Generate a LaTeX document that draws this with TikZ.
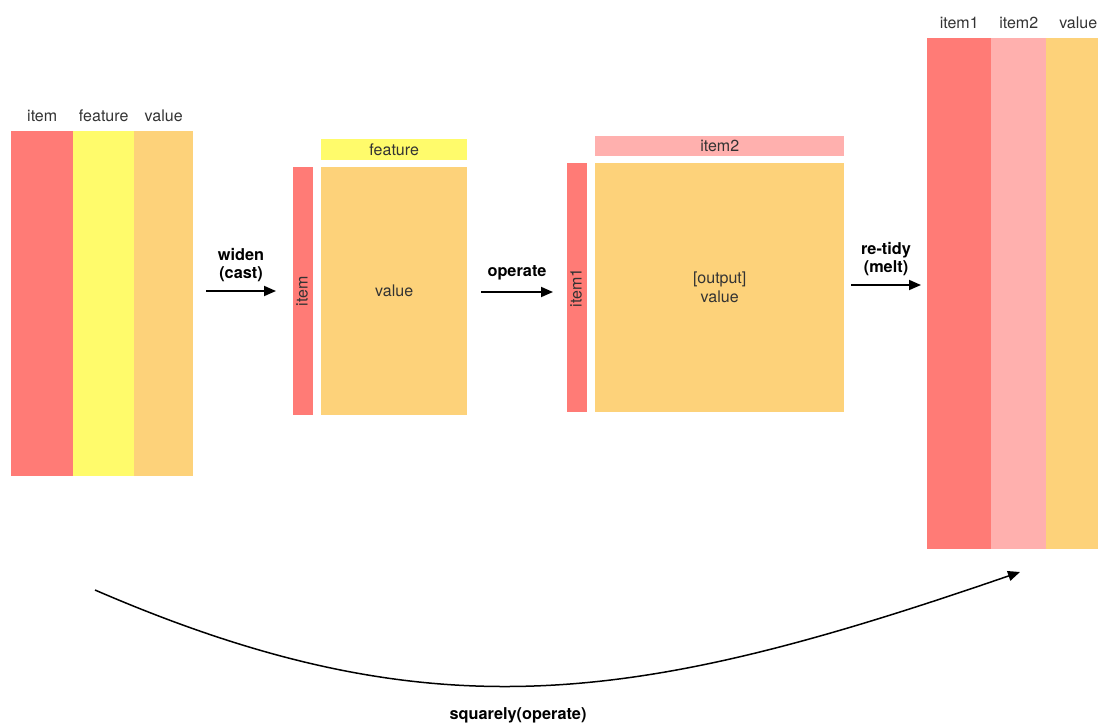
\documentclass[tikz,border=0pt]{standalone}
\usepackage{fontspec}
\setmainfont{TeX Gyre Heros}
\usetikzlibrary{arrows.meta,positioning}

\definecolor{cellred}{HTML}{FF7B76}
\definecolor{cellyellow}{HTML}{FFFB6B}
\definecolor{cellorange}{HTML}{FDD27A}
\definecolor{cellpink}{HTML}{FFB0AE}

\begin{document}
\begin{tikzpicture}[x=1pt, y=-1pt,
  cell/.style={draw=none, inner sep=0pt, anchor=north west, text=black!80,
    font=\fontsize{16}{19}\selectfont, align=center},
  hdr/.style={text=black!80, font=\fontsize{16}{19}\selectfont,
    text height=12pt, text depth=3pt},
  op/.style={font=\bfseries\fontsize{16.3}{18.5}\selectfont, align=center},
  flow/.style={-{Triangle[length=12pt,width=10pt]}, line width=1.8pt}]
 \useasboundingbox (0,0) rectangle (1098,725);

 % Long table
 \node[cell, fill=cellred, minimum width=62pt, minimum height=345pt] (longitem) at (11,131) {};
 \node[cell, fill=cellyellow, minimum width=61pt, minimum height=345pt] (longfeat) at (73,131) {};
 \node[cell, fill=cellorange, minimum width=59pt, minimum height=345pt] (longval) at (134,131) {};
 \node[hdr, above=3pt of longitem] {item};
 \node[hdr, above=3pt of longfeat] {feature};
 \node[hdr, above=3pt of longval] {value};

 % Wide table
 \node[cell, fill=cellyellow, minimum width=146pt, minimum height=21pt] (widefeat) at (321,139) {feature};
 \node[cell, fill=cellred, minimum width=20pt, minimum height=248pt] (wideitem) at (293,167) {};
 \node[cell, fill=cellorange, minimum width=146pt, minimum height=248pt] (wideval) at (321,167) {value};
 \node[hdr, rotate=90] at (wideitem.center) {item};

 % Square table
 \node[cell, fill=cellpink, minimum width=249pt, minimum height=20pt] (sqitemb) at (595,136) {item2};
 \node[cell, fill=cellred, minimum width=20pt, minimum height=249pt] (sqitema) at (567,163) {};
 \node[cell, fill=cellorange, minimum width=249pt, minimum height=249pt] (sqval) at (595,163) {[output]\\value};
 \node[hdr, rotate=90] at (sqitema.center) {item1};

 % Re-tidied table
 \node[cell, fill=cellred, minimum width=64pt, minimum height=511pt] (tallitema) at (927,38) {};
 \node[cell, fill=cellpink, minimum width=55pt, minimum height=511pt] (tallitemb) at (991,38) {};
 \node[cell, fill=cellorange, minimum width=64pt, minimum height=511pt] (tallval) at (1046,38) {};
 \node[hdr, above=3pt of tallitema] {item1};
 \node[hdr, above=3pt of tallitemb] {item2};
 \node[hdr, above=3pt of tallval] {value};

 % Steps
 \coordinate (widenA) at (206,291);
 \coordinate (widenB) at (276,291);
 \coordinate (operA) at (481,292);
 \coordinate (operB) at (553,292);
 \coordinate (tidyA) at (851,285);
 \coordinate (tidyB) at (921,285);
 \draw[flow] (widenA) -- (widenB) node[op, midway, above=5pt] {widen\\(cast)};
 \draw[flow] (operA) -- (operB) node[op, midway, above=8pt] {operate};
 \draw[flow] (tidyA) -- (tidyB) node[op, midway, above=5pt] {re-tidy\\(melt)};

 % Shortcut
 \coordinate (shortA) at (95,590);
 \coordinate (shortB) at (1020,572);
 \draw[-{Triangle[length=12pt,width=10pt]}, line width=1.5pt]
   (shortA) .. controls (435,737) and (640,703) .. (shortB);
 \node[op] (shortlabel) at (518,715) {squarely(operate)};
\end{tikzpicture}
\end{document}
